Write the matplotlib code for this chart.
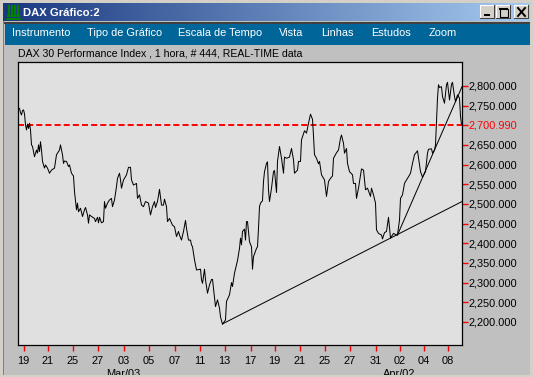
import numpy as np
import matplotlib
matplotlib.use("Agg")
import matplotlib.pyplot as plt
from matplotlib.patches import Rectangle

# bar number, index value
bars = [2, 3, 4, 5, 6, 7, 8, 9, 10, 11, 12, 13, 14, 15, 17, 19, 20, 21, 22, 23, 24, 25, 27, 28, 30, 32, 34, 37, 39, 42,
        43, 45, 46, 47, 49, 51, 52, 54, 56, 57, 59, 60, 61, 63, 65, 67, 68, 70, 71, 72, 74, 77, 78, 80, 81, 82, 84, 86,
        87, 88, 90, 92, 94, 95, 97, 99, 100, 102, 103, 104, 106, 107, 109, 111, 113, 114, 116, 119, 120, 122, 124, 126,
        128, 131, 133, 135, 137, 138, 140, 142, 144, 146, 147, 149, 150, 152, 155, 157, 159, 161, 162, 164, 166, 168,
        169, 171,
        173, 174, 175, 177, 179, 183, 184, 185, 187, 188, 190, 192, 194, 195, 197, 198, 200, 202, 203, 205, 208, 209,
        212, 214, 215, 217, 220, 222, 223, 224, 225, 227, 228, 229, 230, 232, 234, 235, 236, 239, 240, 241,
        242, 243, 245, 246, 247, 249, 250, 251, 252, 254, 256, 257, 259, 260, 262, 264, 266, 267, 269, 272, 274, 276,
        277, 280, 281, 283, 284, 287, 289, 291, 293, 295, 296, 297, 299, 301, 302, 304, 307, 309, 311, 313, 315, 316,
        319, 321, 323, 324, 326, 327, 329, 330, 332, 335, 336, 338, 339, 341, 344, 346, 348, 350, 353, 354, 356, 358,
        359, 361,
        364, 365, 367, 369, 371, 373, 376, 379, 380, 382, 383, 385, 387, 389, 391, 393, 395, 397, 400, 402, 403, 405,
        408, 410, 411, 414, 415, 417, 418,
        419, 420, 421, 422, 424, 425, 427, 429, 430, 432, 434, 435, 437, 438, 440, 442, 443, 444]
index = [2743, 2732, 2726, 2737, 2739, 2729, 2701, 2688, 2703, 2692, 2705, 2688, 2650, 2646, 2620, 2637, 2629, 2650, 2633,
         2658, 2637, 2608, 2591, 2599, 2591, 2578, 2586, 2591, 2625, 2637,
         2650, 2625, 2603, 2609, 2608, 2595, 2599, 2578, 2571, 2531, 2485, 2502, 2480, 2489, 2468, 2485, 2491, 2472, 2451,
         2472, 2468, 2463, 2455, 2466, 2452, 2466, 2452, 2455,
         2506, 2489, 2502, 2510, 2514, 2493, 2510, 2544, 2565, 2578, 2561, 2540, 2561, 2565, 2574, 2593, 2593, 2561, 2548,
         2552, 2514, 2523, 2497, 2493,
         2506, 2502, 2472, 2493, 2506, 2491, 2506, 2537, 2497, 2497, 2512, 2493, 2455, 2463, 2446, 2442, 2417, 2430, 2421,
         2408, 2430, 2458,
         2438, 2408,
         2408, 2396, 2391, 2358, 2332, 2334, 2307, 2298, 2334, 2307, 2273, 2294, 2308, 2308, 2263, 2239, 2256, 2235, 2213,
         2194, 2205, 2252,
         2269, 2300, 2290, 2324, 2356, 2387, 2413, 2396, 2430, 2436, 2408, 2455, 2455, 2404, 2391, 2334, 2366, 2387, 2391,
         2438,
         2493, 2502, 2508, 2557, 2582, 2603, 2607, 2535, 2506, 2540, 2582, 2585, 2529, 2608, 2646, 2616, 2578, 2619, 2616,
         2619, 2641, 2612,
         2578, 2586, 2608, 2608, 2663, 2686, 2680, 2705, 2728, 2715, 2673, 2625, 2616, 2602, 2608, 2574, 2561, 2519, 2557,
         2565, 2571, 2616,
         2630, 2637, 2667, 2675, 2654, 2629, 2641, 2603, 2582, 2574, 2552, 2552, 2514, 2540, 2589, 2586, 2536, 2540, 2519,
         2540, 2523, 2502,
         2434, 2425,
         2421, 2411, 2427, 2430, 2466, 2413, 2425, 2421, 2421, 2459, 2514, 2523, 2552, 2561, 2569, 2578, 2603, 2625, 2635,
         2599, 2582, 2568,
         2582, 2629, 2639, 2640, 2629, 2637, 2650,
         2708, 2769, 2803, 2796, 2798, 2773, 2756, 2803, 2809, 2764, 2804, 2809, 2773, 2760, 2777, 2769, 2722, 2703]

# drawn trend lines
trend_long_x = [205, 444.5]
trend_long_y = [2195, 2506]
trend_short_x = [380, 444.5]
trend_short_y = [2421, 2798]

level = 2700.99

ytick_vals = [2200, 2250, 2300, 2350, 2400, 2450, 2500, 2550, 2600, 2650, 2700.99, 2750, 2800]
ytick_labels = ["2,200.000", "2,250.000", "2,300.000", "2,350.000", "2,400.000", "2,450.000", "2,500.000",
                "2,550.000", "2,600.000", "2,650.000", "2,700.990", "2,750.000", "2,800.000"]
xtick_vals = [6, 30, 55, 80, 106, 131, 157, 182, 207, 233, 257, 282, 307, 332, 358, 382, 406, 430]
xtick_labels = ["19", "21", "25", "27", "03", "05", "07", "11", "13", "17", "19", "21", "25", "27", "31", "02", "04", "08"]
month_vals = [106, 382]
month_labels = ["Mar/03", "Apr/02"]
menu_items = ["Instrumento", "Tipo de Gráfico", "Escala de Tempo", "Vista", "Linhas", "Estudos", "Zoom"]
menu_x = [12, 87, 178, 279, 321, 371, 429]

W, H = 533, 377
GREY = '#c0c0c0'
FONT = 'Liberation Sans'

plt.rc('font', family=FONT)

fig = plt.figure(figsize=(W / 100, H / 100), dpi=100, facecolor=GREY)

#--------------------------------------------------
# window chrome, in pixel coordinates
bg = fig.add_axes([0, 0, 1, 1], zorder=0)
bg.set_xlim(0, W)
bg.set_ylim(H, 0)
bg.axis('off')


def box(ax, x0, y0, x1, y1, color, **kw):
    ax.add_patch(Rectangle((x0, y0), x1 - x0, y1 - y0, facecolor=color, edgecolor='none', lw=0, **kw))


box(bg, 0, 0, W, 3, '#d4d0c8')
box(bg, 0, 0, 3, H, '#d4d0c8')
box(bg, 530, 0, W, H, '#d4d0c8')
box(bg, 3, 3, 4, H, '#808080')

grad = np.linspace(0, 1, 256).reshape(1, -1)
cmap = matplotlib.colors.LinearSegmentedColormap.from_list('title', ['#1a3880', '#a6caf0'])
bg.imshow(grad, extent=(3, 530, 21, 3), cmap=cmap, aspect='auto', zorder=1)
bg.set_xlim(0, W)
bg.set_ylim(H, 0)

box(bg, 4, 22, 530, 24, '#404040', zorder=2)
box(bg, 5, 24, 530, 45, '#006699', zorder=2)

# title bar icon
for bx in [8, 11, 14, 17]:
    box(bg, bx, 5, bx + 2, 15, '#008000', zorder=3)
box(bg, 7, 15, 20, 17, '#008000', zorder=3)
box(bg, 6, 18, 21, 20, '#008000', zorder=3)

bg.text(23, 12.5, "DAX Gráfico:2", color='white', fontsize=8.1, fontweight='bold', va='center', ha='left', zorder=3)

# window buttons
for bx in [480, 496, 514]:
    box(bg, bx, 5, bx + 15, 19, '#404040', zorder=3)
    box(bg, bx, 5, bx + 14, 18, 'white', zorder=3)
    box(bg, bx + 1, 6, bx + 14, 18, '#d4d0c8', zorder=3)
box(bg, 484, 14, 490, 16, 'black', zorder=4)
bg.add_patch(Rectangle((499.5, 8.5), 8, 8, facecolor='none', edgecolor='black', lw=0.8, zorder=4))
box(bg, 499, 8, 508, 10, 'black', zorder=4)
bg.plot([518, 525], [8, 16], color='black', lw=1.4, zorder=4)
bg.plot([525, 518], [8, 16], color='black', lw=1.4, zorder=4)

for label, mx in zip(menu_items, menu_x):
    bg.text(mx, 33.5, label, color='white', fontsize=7.9, va='center', ha='left', zorder=3)

bg.text(18, 54, "DAX 30 Performance Index , 1 hora, # 444, REAL-TIME data", color='black',
        fontsize=7.6, va='center', ha='left', zorder=3)

#--------------------------------------------------
# the chart itself, one bar is about one pixel wide
ax = fig.add_axes([17.5 / W, 1 - 344.5 / H, 444.5 / W, 283 / H], zorder=1, facecolor='#e0e0e0')
ax.set_xlim(0, 444.5)
ax.set_ylim(2142.6, 2862)

for s in ax.spines.values():
    s.set_linewidth(0.9)
    s.set_color('black')

ax.axhline(level, color='#ff0000', lw=1.4, dashes=(3.1, 1.6), zorder=1)
ax.plot(bars, index, color='black', lw=0.72, zorder=2)
ax.plot(trend_long_x, trend_long_y, color='black', lw=0.72, zorder=2)
ax.plot(trend_short_x, trend_short_y, color='black', lw=0.72, zorder=2)

ax.set_xticks(xtick_vals)
ax.set_xticklabels(xtick_labels)
ax.set_yticks(ytick_vals)
ax.set_yticklabels(ytick_labels)
ax.yaxis.tick_right()
ax.tick_params(axis='x', color='#ff0000', length=4, width=1.0, labelsize=7.9, pad=4.5)
ax.tick_params(axis='y', color='#ff0000', length=4, width=1.0, labelsize=7.9, pad=1)

for lab, val in zip(ax.get_yticklabels(), ytick_vals):
    if val == level:
        lab.set_color('#ff0000')

for val, label in zip(month_vals, month_labels):
    ax.text(val, -0.1025, label, transform=ax.get_xaxis_transform(), fontsize=7.9, ha='center', va='center',
            clip_on=False)

#--------------------------------------------------
# bottom border goes over the month labels
top = fig.add_axes([0, 0, 1, 1], zorder=2)
top.set_xlim(0, W)
top.set_ylim(H, 0)
top.axis('off')
box(top, 0, 375, W, H, '#d4d0c8')

fig.savefig('out.png', dpi=100, facecolor=GREY)
